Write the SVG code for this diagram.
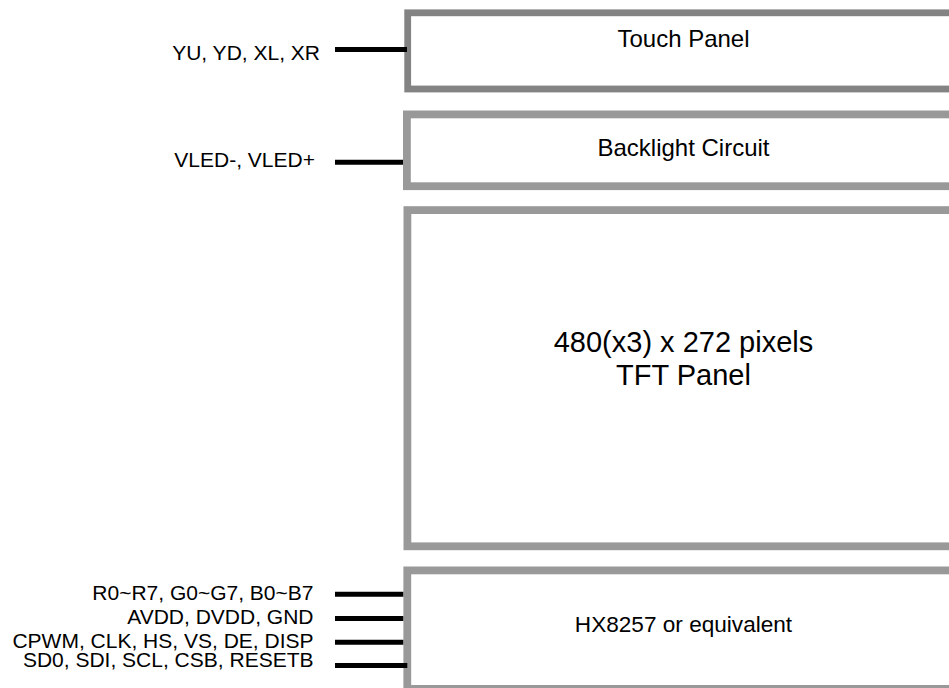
<svg xmlns="http://www.w3.org/2000/svg" width="949" height="688" viewBox="0 0 949 688">
<style>
.box{fill:#ffffff;stroke:#999999;stroke-width:7.8}
.dark{stroke:#838383;stroke-width:6.8}
.lbl{font-family:"Liberation Sans",Arial,sans-serif;font-size:21px;fill:#000000;text-anchor:end}
.ttl{font-family:"Liberation Sans",Arial,sans-serif;fill:#000000;text-anchor:middle}
.wire{stroke:#000000;stroke-width:5;fill:none}
</style>
<rect width="949" height="688" fill="#ffffff"/>
<g id="touch-panel">
<rect class="box dark" x="407.7" y="12.8" width="600" height="76.2"/>
<text class="ttl" x="683.5" y="46.7" font-size="24">Touch Panel</text>
</g>
<g id="backlight-circuit">
<rect class="box" x="406.9" y="114.4" width="600" height="71.8"/>
<text class="ttl" x="683.5" y="156" font-size="24">Backlight Circuit</text>
</g>
<g id="tft-panel">
<rect class="box" x="407.4" y="210.1" width="600" height="336.2"/>
<text class="ttl" x="683.5" y="351.7" font-size="29">480(x3) x 272 pixels</text>
<text class="ttl" x="683.5" y="385" font-size="29">TFT Panel</text>
</g>
<g id="hx8257">
<rect class="box" x="407.3" y="570.4" width="600" height="118.5"/>
<text class="ttl" x="683.5" y="631.7" font-size="22.6">HX8257 or equivalent</text>
</g>
<g id="labels">
<text class="lbl" x="320" y="59.5">YU, YD, XL, XR</text>
<text class="lbl" x="315" y="166.5">VLED-, VLED+</text>
<text class="lbl" x="313.5" y="600">R0~R7, G0~G7, B0~B7</text>
<text class="lbl" x="313.5" y="624.3">AVDD, DVDD, GND</text>
<text class="lbl" x="313.5" y="648.3">CPWM, CLK, HS, VS, DE, DISP</text>
<text class="lbl" x="313.5" y="666.7">SD0, SDI, SCL, CSB, RESETB</text>
</g>
<g id="connectors">
<line class="wire" x1="335" y1="49.5" x2="407" y2="49.5"/>
<line class="wire" x1="335" y1="162.3" x2="403" y2="162.3"/>
<line class="wire" x1="335" y1="594.2" x2="403.3" y2="594.2"/>
<line class="wire" x1="335" y1="618.5" x2="403.3" y2="618.5"/>
<line class="wire" x1="335" y1="642.3" x2="403.3" y2="642.3"/>
<line class="wire" x1="335" y1="665.4" x2="407.3" y2="665.4"/>
</g>
</svg>
